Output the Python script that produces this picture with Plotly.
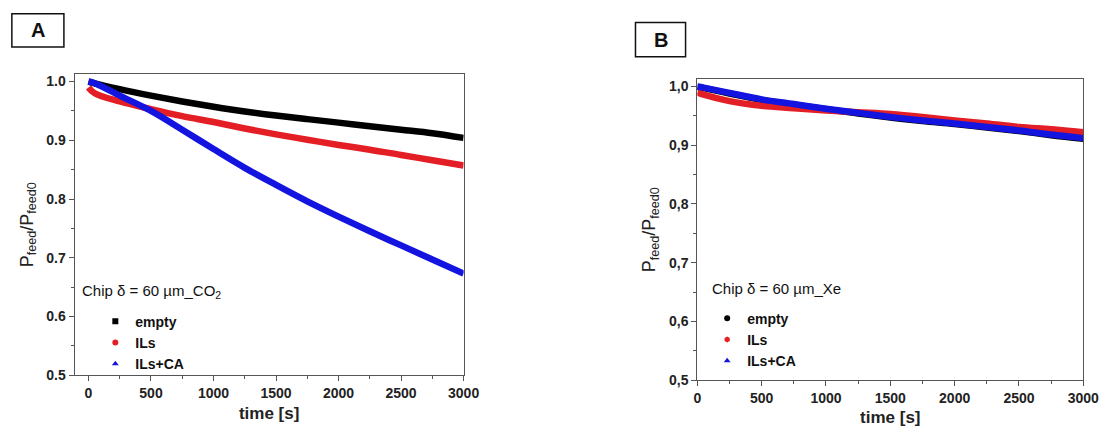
import plotly.graph_objects as go

# ---- data ----
time_s = [0, 50, 250, 500, 750, 1000, 1250, 1500, 1750, 2000, 2250, 2500, 2750, 3000]

a_empty = [1.000, 0.997, 0.987, 0.976, 0.966, 0.957, 0.949, 0.942, 0.936, 0.930, 0.924, 0.918, 0.912, 0.904]
a_ils = [0.990, 0.980, 0.966, 0.953, 0.941, 0.931, 0.920, 0.910, 0.901, 0.892, 0.884, 0.875, 0.866, 0.857]
a_ilsca = [1.000, 0.997, 0.976, 0.950, 0.918, 0.885, 0.853, 0.824, 0.796, 0.770, 0.745, 0.721, 0.697, 0.673]

b_empty = [0.999, 0.997, 0.988, 0.977, 0.969, 0.961, 0.954, 0.947, 0.941, 0.936, 0.930, 0.924, 0.917, 0.911]
b_ils = [0.990, 0.986, 0.975, 0.967, 0.963, 0.959, 0.956, 0.953, 0.948, 0.942, 0.937, 0.931, 0.927, 0.922]
b_ilsca = [1.000, 0.998, 0.989, 0.978, 0.970, 0.962, 0.955, 0.948, 0.942, 0.937, 0.931, 0.925, 0.918, 0.912]

series_names = ["empty", "ILs", "ILs+CA"]
colors = ["#000000", "#e31e24", "#1414e0"]
symbols_a = ["square", "circle", "triangle-up"]
symbols_b = ["circle", "hexagon", "triangle-up"]

x_ticks = [0, 500, 1000, 1500, 2000, 2500, 3000]
y_ticks = [0.5, 0.6, 0.7, 0.8, 0.9, 1.0]
y_text_a = ["0.5", "0.6", "0.7", "0.8", "0.9", "1.0"]
y_text_b = ["0,5", "0,6", "0,7", "0,8", "0,9", "1,0"]

W, H = 1116, 442
def px(x): return x / W
def py(y): return 1 - y / H

FONT = "Liberation Sans"
fig = go.Figure()

for i, ys in enumerate([a_empty, a_ils, a_ilsca]):
    fig.add_trace(go.Scatter(x=time_s, y=ys, mode="lines", line=dict(color=colors[i], width=6.5, shape="spline"),
                             showlegend=False, hoverinfo="skip", xaxis="x", yaxis="y"))
for i, ys in enumerate([b_empty, b_ils, b_ilsca]):
    fig.add_trace(go.Scatter(x=time_s, y=ys, mode="lines", line=dict(color=colors[i], width=6.5, shape="spline"),
                             showlegend=False, hoverinfo="skip", xaxis="x2", yaxis="y2"))
# legend entries
for i, nm in enumerate(series_names):
    fig.add_trace(go.Scatter(x=[None], y=[None], mode="markers", name=nm,
                             marker=dict(color=colors[i], symbol=symbols_a[i], size=6),
                             xaxis="x", yaxis="y", legend="legend"))
for i, nm in enumerate(series_names):
    fig.add_trace(go.Scatter(x=[None], y=[None], mode="markers", name=nm,
                             marker=dict(color=colors[i], symbol=symbols_b[i], size=6),
                             xaxis="x2", yaxis="y2", legend="legend2"))

def xaxis(domain, rng, anchor):
    return dict(domain=domain, range=rng, anchor=anchor, tickvals=x_ticks,
                showline=True, mirror=True, linecolor="#555", linewidth=1.2,
                ticks="outside", ticklen=5, tickcolor="#555", showgrid=False, zeroline=False,
                tickfont=dict(family=FONT, size=14, color="#222", weight="bold"),
                minor=dict(tickvals=[250, 750, 1250, 1750, 2250, 2750], ticks="outside", ticklen=3, tickcolor="#555"),
                title=dict(text="time [s]", font=dict(family=FONT, size=17, color="#222", weight="bold"), standoff=6))
def yaxis(domain, anchor, ticktext):
    return dict(domain=domain, range=[0.5, 1.012], anchor=anchor, tickvals=y_ticks, ticktext=ticktext,
                showline=True, mirror=True, linecolor="#555", linewidth=1.2,
                ticks="outside", ticklen=5, tickcolor="#555", showgrid=False, zeroline=False,
                tickfont=dict(family=FONT, size=14, color="#222", weight="bold"),
                minor=dict(tickvals=[0.55, 0.65, 0.75, 0.85, 0.95], ticks="outside", ticklen=3, tickcolor="#555"),
                title=dict(text="P<sub>feed</sub>/P<sub>feed0</sub>", font=dict(family=FONT, size=18, color="#222"), standoff=8))

legend_common = dict(font=dict(family=FONT, size=14, color="#111", weight="bold"),
                     bgcolor="rgba(0,0,0,0)", xanchor="left", yanchor="top", tracegroupgap=0)

fig.update_layout(
    width=W, height=H, margin=dict(l=0, r=0, t=0, b=0),
    paper_bgcolor="white", plot_bgcolor="white",
    xaxis=xaxis([px(72), px(468)], [-110, 3000], "y"),
    yaxis=yaxis([py(382), py(75)], "x", y_text_a),
    xaxis2=xaxis([px(706), px(1099)], [0, 3000], "y2"),
    yaxis2=yaxis([py(387), py(80)], "x2", y_text_b),
    legend=dict(x=px(93), y=py(311), **legend_common),
    legend2=dict(x=px(716), y=py(308), **legend_common),
    showlegend=True,
)

# panel labels
for (x0, y0, x1, y1, lab) in [(8, 13, 61, 47, "A"), (643, 22, 694, 57, "B")]:
    fig.add_shape(type="rect", xref="paper", yref="paper", x0=px(x0), x1=px(x1), y0=py(y1), y1=py(y0),
                  line=dict(color="#111", width=1.5))
    fig.add_annotation(xref="paper", yref="paper", x=px((x0 + x1) / 2), y=py((y0 + y1) / 2),
                       text=lab, showarrow=False, font=dict(family=FONT, size=20, color="#111", weight="bold"),
                       xanchor="center", yanchor="middle")

fig.add_annotation(xref="paper", yref="paper", x=px(77), y=py(297), xanchor="left", yanchor="middle",
                   text="Chip δ = 60 µm_CO<sub>2</sub>", showarrow=False,
                   font=dict(family=FONT, size=15, color="#111"))
fig.add_annotation(xref="paper", yref="paper", x=px(719), y=py(293), xanchor="left", yanchor="middle",
                   text="Chip δ = 60 µm_Xe", showarrow=False,
                   font=dict(family=FONT, size=15, color="#111"))

fig.write_html("out.html")
